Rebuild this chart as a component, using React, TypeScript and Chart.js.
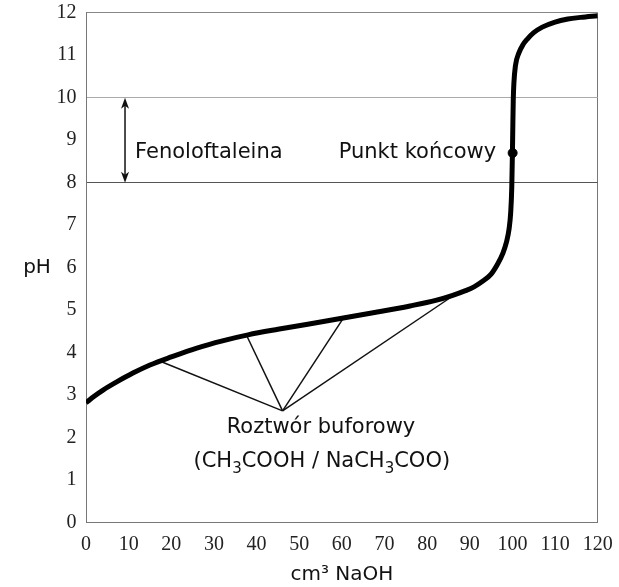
import { useEffect, useRef } from "react";
import { Chart, registerables } from "chart.js";

Chart.register(...registerables);

// Titration curve: volume of NaOH (cm³) vs pH
const volumes = [0, 2, 4, 7, 11, 15, 20, 26, 32, 38, 45, 52, 60, 68, 76, 82, 86, 89, 91, 93, 95, 96.6, 97.8, 98.6, 99.2, 99.6, 99.85, 100.0, 100.1, 100.2, 100.35, 100.7, 101.5, 102.5, 103.5, 105, 107, 110, 113, 116, 120];
const phValues = [2.82, 2.98, 3.12, 3.3, 3.52, 3.71, 3.9, 4.11, 4.28, 4.42, 4.55, 4.67, 4.81, 4.95, 5.1, 5.23, 5.35, 5.46, 5.55, 5.68, 5.85, 6.1, 6.35, 6.6, 6.9, 7.3, 7.9, 8.7, 9.35, 9.95, 10.35, 10.75, 11.05, 11.25, 11.38, 11.53, 11.66, 11.78, 11.85, 11.89, 11.93];

// Buffer solution callout: hub point and the four points on the curve
const bufferHub = { x: 46.1, y: 2.63 };
const bufferTouchX = [17.4, 37.7, 60.2, 86.1];
const bufferTouchPH = [3.8, 4.4, 4.79, 5.34];

// Equivalence point
const endPoint = { x: 100.05, y: 8.7 };

// Phenolphthalein range
const indicatorX = 9.15;
const indicatorRange = [8, 10];

// Text labels
const indicatorLabel = "Fenoloftaleina";
const endPointLabel = "Punkt końcowy";
const bufferLabel = "Roztwór buforowy";
const bufferFormulaParts: [string, boolean][] = [
  ["(CH", false], ["3", true], ["COOH / NaCH", false], ["3", true], ["COO)", false],
];
const xTitle = "cm³ NaOH";
const yTitle = "pH";

const X_MIN = 0, X_MAX = 120, X_STEP = 10;
const Y_MIN = 0, Y_MAX = 12, Y_STEP = 1;

const SANS = '"DejaVu Sans", sans-serif';
const SERIF = '"Liberation Serif", "Times New Roman", serif';

const annotationPlugin = {
  id: "annotations",
  afterDatasetsDraw(chart: any) {
    const { ctx, scales, chartArea } = chart;
    const xs = scales.x, ys = scales.y;
    ctx.save();
    // Arrow
    const ax = xs.getPixelForValue(indicatorX);
    const yTop = ys.getPixelForValue(indicatorRange[1]);
    const yBot = ys.getPixelForValue(indicatorRange[0]);
    ctx.strokeStyle = "#111";
    ctx.fillStyle = "#111";
    ctx.lineWidth = 1.5;
    ctx.beginPath();
    ctx.moveTo(ax, yTop + 6);
    ctx.lineTo(ax, yBot - 6);
    ctx.stroke();
    const hw = 4, hl = 11;
    ctx.beginPath();
    ctx.moveTo(ax, yTop);
    ctx.lineTo(ax - hw, yTop + hl);
    ctx.lineTo(ax, yTop + hl - 3);
    ctx.lineTo(ax + hw, yTop + hl);
    ctx.closePath();
    ctx.fill();
    ctx.beginPath();
    ctx.moveTo(ax, yBot);
    ctx.lineTo(ax - hw, yBot - hl);
    ctx.lineTo(ax, yBot - hl + 3);
    ctx.lineTo(ax + hw, yBot - hl);
    ctx.closePath();
    ctx.fill();

    ctx.font = `21px ${SANS}`;
    ctx.textBaseline = "middle";
    ctx.fillStyle = "#111";
    ctx.textAlign = "left";
    ctx.fillText(indicatorLabel, xs.getPixelForValue(11.5), ys.getPixelForValue(8.72));
    ctx.textAlign = "right";
    ctx.fillText(endPointLabel, xs.getPixelForValue(96.2), ys.getPixelForValue(8.7));
    ctx.textAlign = "center";
    ctx.fillText(bufferLabel, xs.getPixelForValue(55.1), ys.getPixelForValue(2.25));

    // Formula with subscripts
    const mainFont = `21px ${SANS}`;
    const subFont = `15px ${SANS}`;
    let total = 0;
    const widths = bufferFormulaParts.map(([t, sub]) => {
      ctx.font = sub ? subFont : mainFont;
      const w = ctx.measureText(t).width;
      total += w;
      return w;
    });
    let cx = xs.getPixelForValue(55.3) - total / 2;
    const cy = ys.getPixelForValue(1.43);
    ctx.textAlign = "left";
    bufferFormulaParts.forEach(([t, sub], i) => {
      ctx.font = sub ? subFont : mainFont;
      ctx.fillText(t, cx, sub ? cy + 7 : cy);
      cx += widths[i];
    });

    // y axis title (horizontal)
    ctx.font = `20px ${SANS}`;
    ctx.textAlign = "center";
    ctx.fillText(yTitle, chartArea.left - 49, (chartArea.top + chartArea.bottom) / 2);
    ctx.restore();
  },
};

export default function App() {
  const ref = useRef<HTMLCanvasElement | null>(null);
  useEffect(() => {
    document.body.style.margin = "0";
    const canvas = ref.current;
    if (!canvas) return;
    const curve = volumes.map((v, i) => ({ x: v, y: phValues[i] }));
    const bufferSets = bufferTouchX.map((bx, i) => ({
      type: "line" as const,
      data: [bufferHub, { x: bx, y: bufferTouchPH[i] }],
      borderColor: "#111",
      borderWidth: 1.5,
      pointRadius: 0,
      fill: false,
    }));
    const chart = new Chart(canvas, {
      type: "line",
      data: {
        datasets: [
          {
            type: "scatter" as any,
            data: [endPoint],
            backgroundColor: "#000",
            borderColor: "#000",
            pointRadius: 4.5,
            showLine: false,
          } as any,
          {
            data: curve,
            borderColor: "#000",
            borderWidth: 5,
            pointRadius: 0,
            cubicInterpolationMode: "monotone",
            fill: false,
          },
          ...bufferSets,
        ],
      },
      options: {
        animation: false,
        responsive: false,
        devicePixelRatio: 1,
        layout: { padding: { top: 12.7, right: 21.3, left: 0, bottom: 0 } },
        plugins: { legend: { display: false }, tooltip: { enabled: false } },
        scales: {
          x: {
            type: "linear",
            min: X_MIN,
            max: X_MAX,
            ticks: { stepSize: X_STEP, padding: 10, color: "#222", font: { family: SERIF, size: 20 } },
            grid: {
              drawTicks: false,
              color: (c: any) => (c.tick && c.tick.value === X_MAX ? "#777" : "transparent"),
            },
            border: { color: "#777" },
            title: { display: true, text: xTitle, color: "#111", font: { family: SANS, size: 20 }, padding: { top: 0, bottom: 0 } },
            afterFit: (s: any) => { s.height = 64.3; s.paddingLeft = 0; s.paddingRight = 0; },
          },
          y: {
            type: "linear",
            min: Y_MIN,
            max: Y_MAX,
            ticks: { stepSize: Y_STEP, padding: 9.5, color: "#222", font: { family: SERIF, size: 20 } },
            grid: {
              drawTicks: false,
              color: (c: any) => {
                const v = c.tick && c.tick.value;
                if (v === 8) return "#555";
                if (v === 10) return "#aaa";
                if (v === 12) return "#888";
                return "transparent";
              },
            },
            border: { color: "#777" },
            afterFit: (s: any) => { s.width = 86; s.paddingTop = 0; s.paddingBottom = 0; },
          },
        },
      },
      plugins: [annotationPlugin],
    });
    return () => chart.destroy();
  }, []);
  return <canvas ref={ref} width={619} height={587} style={{ display: "block" }} />;
}
